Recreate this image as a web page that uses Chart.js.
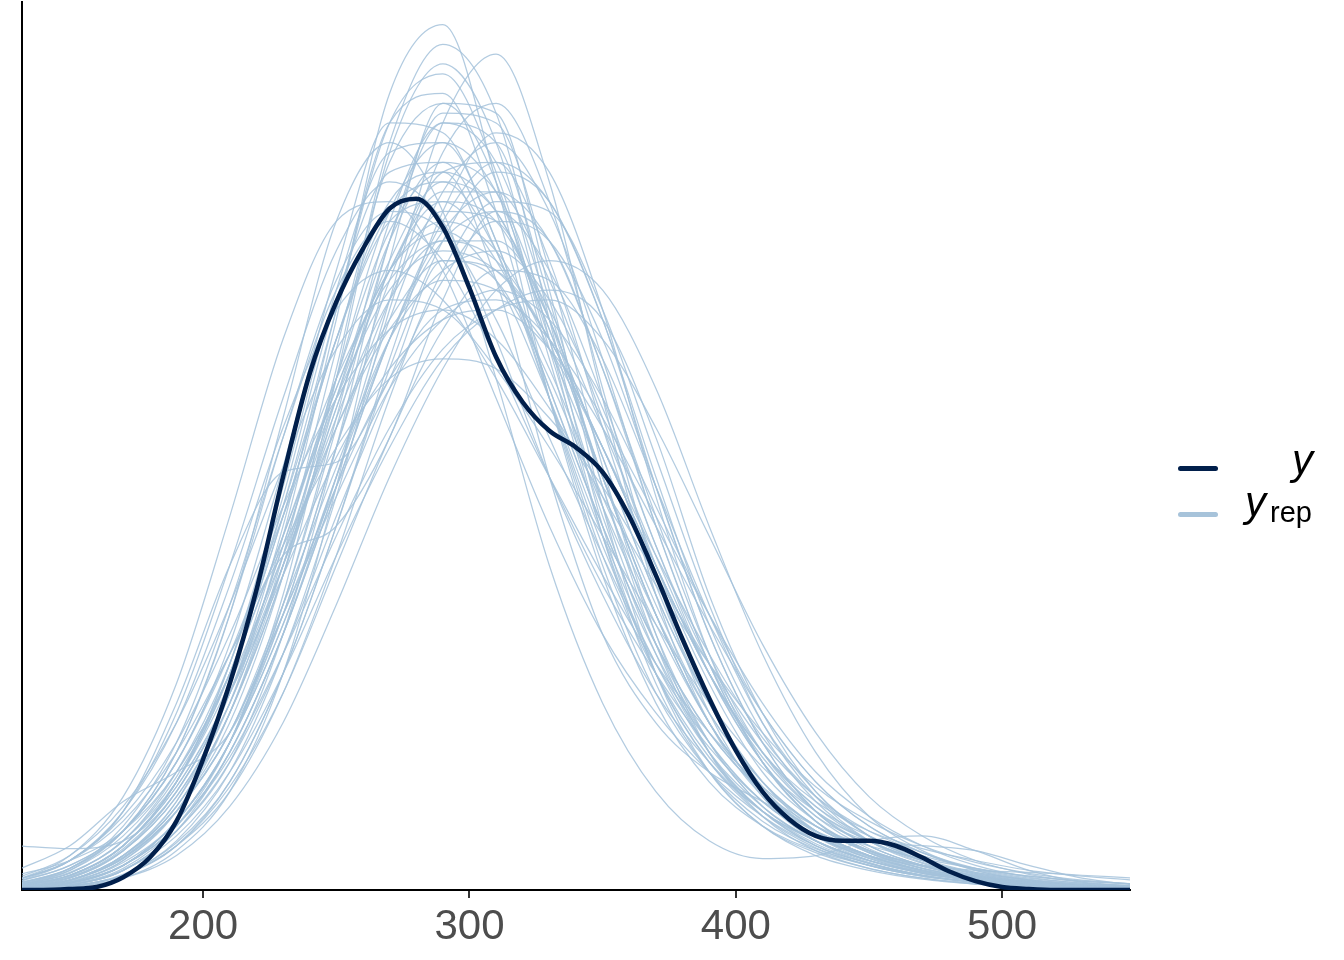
<!DOCTYPE html>
<html>
<head>
<meta charset="utf-8">
<script src="https://cdn.jsdelivr.net/npm/chart.js@4.4.1/dist/chart.umd.min.js"></script>
<style>
  body { margin: 0; background: #fff; }
  #wrap { position: relative; width: 1344px; height: 960px; }
  .key { position: absolute; left: 1178px; width: 40px; height: 5px; border-radius: 3px; }
  .lab { position: absolute; font-family: "Liberation Sans", Arial, sans-serif; line-height: 1; color: #000; }
</style>
</head>
<body>
<div id="wrap">
  <canvas id="densCanvas" width="1344" height="960"></canvas>
  <div class="key" style="top:466px; background:#011f4b;"></div>
  <div class="key" style="top:512px; background:#a7c3da;"></div>
  <div class="lab" style="left:1292px; top:439px; font-size:42px; font-style:italic;">y</div>
  <div class="lab" style="left:1245px; top:481px; font-size:42px;"><i>y</i><span style="font-size:29px; position:relative; top:6px; margin-left:4px;">rep</span></div>
</div>
<script>
// x positions for the observed density (every 10)
const obsX = [130, 140, 150, 160, 170, 180, 190, 200, 210, 220, 230, 240, 250, 260, 270, 280, 290, 300, 310, 320, 330,
              340, 350, 360, 370, 380, 390, 400, 410, 420, 430, 440, 450, 460, 470, 480, 490, 500, 510, 520, 530, 540, 550];
// observed y density (x 1e-3)
const obsY = [0, 0, 0.01, 0.03, 0.13, 0.33, 0.7, 1.33, 2.1, 3.05, 4.2, 5.25, 5.98, 6.52, 6.93, 7.03, 6.74, 6.12, 5.42, 4.96, 4.67,
              4.5, 4.25, 3.8, 3.2, 2.55, 1.95, 1.42, 1.0, 0.72, 0.55, 0.5, 0.5, 0.45, 0.33, 0.19, 0.09, 0.03, 0.01, 0, 0, 0, 0];

// x positions for the replicated densities (every 20)
const repX = [130, 150, 170, 190, 210, 230, 250, 270, 290, 310, 330, 350, 370, 390, 410, 430, 450, 470, 490, 510, 530, 550];
// replicated draws y_rep
const yrep = [
  [0.03,0.1,0.35,0.9,1.9,3.6,5.8,8.1,8.8,7.2,5.0,3.2,1.9,1.1,0.65,0.4,0.25,0.15,0.08,0.04,0.02,0.01],
  [0.02,0.08,0.3,0.8,1.7,3.2,5.3,7.6,8.6,7.9,5.8,3.7,2.2,1.3,0.8,0.5,0.3,0.18,0.1,0.05,0.03,0.02],
  [0.01,0.05,0.2,0.6,1.4,2.6,4.2,6.0,7.8,8.5,7.2,5.0,3.0,1.7,0.95,0.55,0.32,0.18,0.1,0.05,0.03,0.02],
  [0.05,0.15,0.45,1.1,2.2,3.9,5.9,7.8,8.3,7.3,5.5,3.8,2.4,1.4,0.8,0.45,0.25,0.14,0.08,0.04,0.02,0.01],
  [0.08,0.25,0.6,1.3,2.5,4.3,6.3,7.8,7.7,6.6,5.1,3.7,2.5,1.6,1.0,0.6,0.35,0.2,0.12,0.07,0.04,0.02],
  [0.02,0.08,0.25,0.7,1.5,2.7,4.2,5.8,7.1,7.6,6.9,5.4,3.7,2.3,1.3,0.7,0.4,0.22,0.12,0.06,0.03,0.02],
  [0.03,0.12,0.4,0.95,1.9,3.3,4.9,6.3,7.1,7.1,6.2,4.8,3.3,2.1,1.2,0.7,0.4,0.25,0.15,0.08,0.04,0.02],
  [0.05,0.18,0.5,1.2,2.3,3.9,5.6,6.8,7.0,6.4,5.3,4.0,2.8,1.8,1.1,0.65,0.4,0.25,0.14,0.08,0.04,0.02],
  [0.01,0.05,0.2,0.6,1.3,2.4,3.8,5.1,6.2,6.8,6.6,5.6,4.1,2.6,1.5,0.8,0.45,0.25,0.13,0.07,0.04,0.02],
  [0.06,0.2,0.55,1.2,2.2,3.6,5.0,6.1,6.5,6.3,5.6,4.5,3.3,2.2,1.35,0.8,0.5,0.3,0.18,0.1,0.06,0.03],
  [0.1,0.3,0.7,1.4,2.4,3.5,4.5,5.2,5.4,5.3,4.8,4.1,3.2,2.3,1.5,0.95,0.6,0.38,0.22,0.12,0.07,0.04],
  [0.1,0.3,0.8,1.9,3.3,4.25,4.35,5.2,6.4,6.2,5.2,3.9,2.7,1.7,1.0,0.6,0.35,0.2,0.12,0.06,0.03,0.02],
  [0.08,0.25,0.6,1.3,2.4,3.4,3.7,4.6,6.0,6.9,6.6,5.3,3.7,2.3,1.3,0.7,0.4,0.22,0.12,0.06,0.03,0.02],
  [0.45,0.42,0.5,1.0,2.0,3.4,5.0,6.4,7.2,6.9,5.7,4.2,2.8,1.7,1.0,0.55,0.3,0.17,0.09,0.05,0.02,0.01],
  [0.04,0.15,0.45,1.1,2.2,3.8,5.6,7.0,7.3,6.2,4.2,2.6,1.7,1.2,0.9,0.6,0.4,0.25,0.14,0.07,0.03,0.02],
  [0.05,0.2,0.6,1.4,2.8,4.8,6.8,7.6,6.9,5.2,3.3,1.9,1.0,0.5,0.32,0.35,0.5,0.55,0.4,0.2,0.08,0.03],
  [0.02,0.07,0.25,0.65,1.4,2.6,4.1,5.6,6.8,7.4,7.0,5.8,4.2,2.7,1.6,0.9,0.5,0.28,0.15,0.08,0.04,0.02],
  [0.01,0.05,0.2,0.55,1.2,2.2,3.4,4.5,5.4,5.9,6.1,5.8,4.6,3.0,1.8,1.0,0.55,0.3,0.16,0.08,0.04,0.02],
  [0.03,0.1,0.35,0.85,1.8,3.2,4.9,6.3,7.0,6.8,5.8,4.4,3.0,1.9,1.1,0.65,0.38,0.22,0.12,0.06,0.03,0.02],
  [0.12,0.35,0.85,1.7,2.9,4.3,5.5,6.0,5.9,5.3,4.5,3.6,2.7,1.9,1.25,0.8,0.5,0.3,0.17,0.09,0.05,0.03],
  [0.02,0.07,0.25,0.7,1.5,2.9,4.8,6.8,7.8,7.4,5.9,4.1,2.6,1.5,0.85,0.5,0.3,0.18,0.1,0.05,0.03,0.02],
  [0.02,0.08,0.28,0.7,1.5,2.7,4.2,5.6,6.6,6.9,6.3,5.0,3.5,2.3,1.4,0.85,0.55,0.35,0.22,0.14,0.09,0.06],
  [0.04,0.15,0.45,1.1,2.3,4.0,6.0,7.3,7.4,6.5,5.0,3.5,2.3,1.4,0.85,0.5,0.3,0.17,0.1,0.05,0.03,0.02],
  [0.05,0.15,0.45,1.05,2.0,3.3,4.7,5.8,6.4,6.3,5.6,4.5,3.3,2.2,1.4,0.9,0.6,0.42,0.3,0.2,0.14,0.1],
  [0.01,0.05,0.2,0.6,1.3,2.6,4.5,6.6,7.9,7.8,6.3,4.3,2.6,1.4,0.75,0.4,0.22,0.12,0.06,0.03,0.02,0.01],
  [0.04,0.14,0.45,1.05,2.0,3.2,4.4,5.3,5.8,5.9,5.5,4.7,3.7,2.7,1.8,1.1,0.65,0.38,0.2,0.1,0.05,0.03],
  [0.08,0.3,0.8,1.8,3.3,5.0,6.5,7.2,6.8,5.6,4.2,3.0,2.0,1.3,0.8,0.5,0.3,0.18,0.1,0.05,0.03,0.02],
  [0.03,0.12,0.4,1.0,2.0,3.5,5.1,6.3,6.7,6.2,5.0,3.6,2.4,1.5,0.9,0.55,0.35,0.25,0.2,0.18,0.15,0.12],
  [0.2,0.45,0.9,1.2,1.6,2.8,4.5,6.0,6.9,6.8,5.8,4.4,3.0,1.9,1.1,0.6,0.35,0.2,0.1,0.05,0.03,0.02],
  [0.01,0.04,0.15,0.45,1.05,2.0,3.3,4.6,5.7,6.3,6.2,5.4,4.1,2.8,1.7,1.0,0.55,0.3,0.16,0.08,0.04,0.02],
  [0.03,0.1,0.35,0.9,2.0,3.7,5.9,7.8,8.1,6.9,5.0,3.3,2.0,1.2,0.7,0.42,0.25,0.14,0.08,0.04,0.02,0.01],
  [0.01,0.04,0.15,0.45,1.1,2.2,3.7,5.4,6.9,7.7,7.3,5.9,4.0,2.4,1.3,0.7,0.38,0.2,0.1,0.05,0.03,0.02],
  [0.04,0.13,0.42,1.0,2.0,3.5,5.2,6.7,7.3,6.9,5.7,4.2,2.8,1.7,1.0,0.6,0.35,0.2,0.11,0.06,0.03,0.02],
  [0.06,0.22,0.65,1.5,2.9,4.6,6.1,6.8,6.4,5.4,4.2,3.1,2.2,1.45,0.9,0.55,0.33,0.19,0.1,0.05,0.03,0.02],
  [0.01,0.04,0.15,0.5,1.2,2.4,4.0,5.9,7.5,8.0,7.0,5.1,3.2,1.8,0.95,0.5,0.28,0.15,0.08,0.04,0.02,0.01],
  [0.03,0.1,0.32,0.8,1.6,2.8,4.1,5.2,5.9,6.0,5.6,4.8,3.8,2.8,1.9,1.2,0.75,0.45,0.25,0.13,0.07,0.04],
  [0.02,0.07,0.25,0.7,1.5,2.9,4.7,6.6,7.8,7.6,6.0,4.1,2.5,1.4,0.8,0.45,0.27,0.15,0.08,0.04,0.02,0.01],
  [0.01,0.04,0.15,0.45,1.0,2.0,3.4,5.0,6.3,7.0,6.9,5.9,4.4,2.9,1.7,0.95,0.5,0.27,0.14,0.07,0.04,0.02],
  [0.07,0.22,0.6,1.3,2.4,3.8,5.2,6.2,6.6,6.4,5.6,4.5,3.3,2.2,1.4,0.85,0.5,0.3,0.17,0.09,0.05,0.03],
  [0.02,0.07,0.25,0.7,1.5,2.8,4.5,6.2,7.3,7.4,6.4,4.7,3.1,1.9,1.05,0.6,0.35,0.2,0.11,0.06,0.03,0.02],
  [0.06,0.22,0.6,1.4,2.8,4.6,6.2,6.9,6.7,5.8,4.6,3.4,2.3,1.5,0.9,0.55,0.32,0.18,0.1,0.05,0.03,0.02],
  [0.03,0.1,0.33,0.8,1.6,2.8,4.0,5.1,5.8,6.1,5.8,5.0,3.9,2.8,1.8,1.1,0.65,0.38,0.21,0.11,0.06,0.03],
  [0.01,0.03,0.12,0.4,1.0,2.2,4.1,6.4,8.0,7.9,6.1,3.9,2.2,1.2,0.65,0.35,0.2,0.11,0.06,0.03,0.02,0.01],
  [0.05,0.17,0.5,1.15,2.2,3.8,5.6,6.9,7.2,6.5,5.1,3.7,2.5,1.6,1.0,0.65,0.45,0.32,0.22,0.14,0.09,0.06],
  [0.01,0.03,0.12,0.35,0.85,1.7,2.9,4.2,5.3,6.1,6.4,6.1,5.1,3.7,2.4,1.4,0.75,0.4,0.2,0.1,0.05,0.03],
  [0.03,0.1,0.35,0.85,1.8,3.3,5.2,6.9,7.6,7.1,5.6,3.9,2.5,1.5,0.85,0.5,0.3,0.17,0.1,0.05,0.03,0.02],
  [0.04,0.13,0.4,0.95,1.9,3.3,4.8,6.0,6.6,6.6,5.9,4.7,3.4,2.2,1.3,0.75,0.42,0.24,0.13,0.07,0.04,0.02],
  [0.1,0.3,0.75,1.5,2.6,3.9,5.0,5.7,5.9,5.6,4.9,4.0,3.1,2.3,1.6,1.05,0.7,0.45,0.28,0.17,0.1,0.06],
  [0.02,0.06,0.22,0.65,1.5,3.0,5.2,7.5,8.4,7.6,5.6,3.6,2.1,1.2,0.65,0.38,0.22,0.12,0.07,0.04,0.02,0.01],
  [0.02,0.07,0.25,0.65,1.4,2.6,4.1,5.6,6.7,7.1,6.6,5.3,3.8,2.4,1.4,0.8,0.45,0.25,0.14,0.07,0.04,0.02],
  [0.1,0.3,0.8,1.7,3.1,4.7,5.9,6.3,6.0,5.2,4.2,3.2,2.3,1.6,1.05,0.65,0.4,0.24,0.14,0.08,0.04,0.02],
  [0.01,0.04,0.16,0.48,1.1,2.2,3.7,5.3,6.6,7.3,7.0,5.8,4.1,2.6,1.5,0.8,0.45,0.25,0.13,0.07,0.04,0.02],
  [0.15,0.3,0.6,1.2,2.2,3.6,5.1,6.3,6.8,6.5,5.5,4.2,2.9,1.8,1.1,0.65,0.38,0.22,0.12,0.06,0.03,0.02],
  [0.04,0.15,0.45,1.1,2.3,4.1,6.1,7.5,7.6,6.6,5.0,3.4,2.2,1.35,0.8,0.47,0.27,0.15,0.08,0.04,0.02,0.01],
  [0.02,0.07,0.25,0.65,1.35,2.4,3.6,4.7,5.5,5.9,6.0,5.6,4.7,3.6,2.5,1.6,0.95,0.55,0.3,0.16,0.08,0.04],
  [0.03,0.1,0.33,0.85,1.8,3.2,5.0,6.6,7.4,7.1,5.8,4.2,2.8,1.7,1.0,0.58,0.34,0.2,0.11,0.06,0.03,0.02],
  [0.03,0.1,0.32,0.8,1.6,2.9,4.3,5.6,6.3,6.5,6.0,4.9,3.5,2.2,1.3,0.75,0.5,0.45,0.4,0.25,0.12,0.05],
  [0.1,0.35,0.95,2.1,3.8,5.6,6.8,7.0,6.3,5.0,3.7,2.6,1.8,1.2,0.75,0.45,0.27,0.15,0.08,0.04,0.02,0.01],
  [0.05,0.17,0.5,1.1,2.1,3.4,4.7,5.7,6.2,6.1,5.5,4.5,3.4,2.4,1.55,0.95,0.55,0.32,0.18,0.1,0.05,0.03],
  [0.03,0.09,0.3,0.8,1.8,3.4,5.5,7.4,8.0,7.2,5.4,3.6,2.2,1.3,0.75,0.43,0.25,0.14,0.08,0.04,0.02,0.01]
];

const xTicks = [200, 300, 400, 500];
const xMin = 132, xMax = 548;

document.addEventListener("DOMContentLoaded", function() {
    const canvas = document.getElementById('densCanvas');

    // observed line first so it is drawn on top
    const datasets = [{
        label: 'y',
        data: obsX.map((x, i) => ({ x: x, y: obsY[i] })),
        borderColor: '#011f4b',
        borderWidth: 4.5,
        cubicInterpolationMode: 'monotone',
        pointRadius: 0,
        order: 0
    }];
    yrep.forEach((vals, k) => {
        datasets.push({
            label: 'yrep' + (k + 1),
            data: repX.map((x, i) => ({ x: x, y: vals[i] })),
            borderColor: 'rgba(165, 194, 219, 0.85)',
            borderWidth: 1.25,
            cubicInterpolationMode: 'monotone',
            pointRadius: 0,
            order: 1
        });
    });

    new Chart(canvas, {
        type: 'line',
        data: { datasets: datasets },
        options: {
            responsive: false,
            animation: false,
            layout: { padding: { left: 22, right: 214, top: 2, bottom: 0 } },
            scales: {
                x: {
                    type: 'linear',
                    min: xMin,
                    max: xMax,
                    afterBuildTicks: scale => { scale.ticks = xTicks.map(v => ({ value: v })); },
                    afterFit: scale => { scale.height = 70; },
                    grid: { drawOnChartArea: false, drawTicks: true, tickLength: 8, color: '#333', lineWidth: 2 },
                    border: { display: true, color: '#000', width: 2 },
                    ticks: {
                        color: '#4d4d4d',
                        padding: 4,
                        maxRotation: 0,
                        font: { family: 'Liberation Sans, Arial, sans-serif', size: 42 }
                    }
                },
                y: {
                    min: 0,
                    max: 9.03,
                    afterFit: scale => { scale.width = 0; },
                    grid: { display: false },
                    border: { display: true, color: '#000', width: 2 },
                    ticks: { display: false }
                }
            },
            plugins: {
                legend: { display: false },
                tooltip: { enabled: false }
            }
        }
    });
});
</script>
</body>
</html>
